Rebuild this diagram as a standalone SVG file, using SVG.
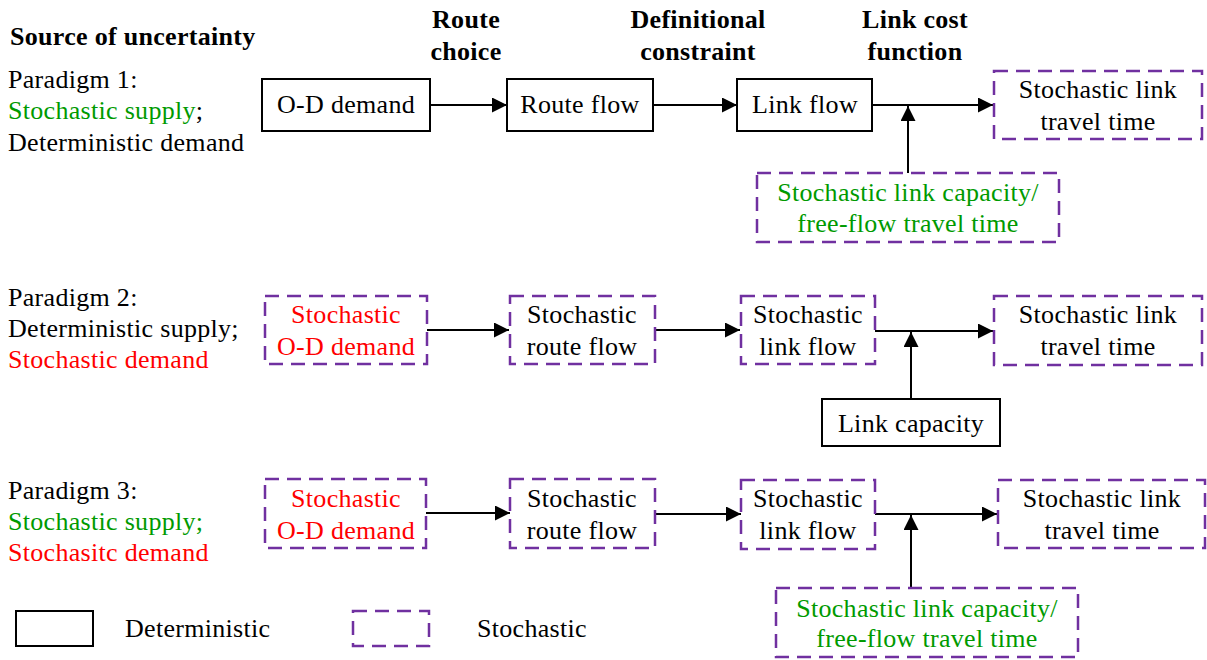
<svg xmlns="http://www.w3.org/2000/svg" width="1207" height="660" viewBox="0 0 1207 660">
<defs>
<marker id="arr" viewBox="0 0 10 10" markerWidth="15" markerHeight="15" markerUnits="userSpaceOnUse" refX="10" refY="5" orient="auto">
<path d="M0,0 L10,5 L0,10 z" fill="#000"/>
</marker>
</defs>
<style>
text{font-family:'Liberation Serif','Times New Roman','DejaVu Serif',serif;font-size:26px;fill:#000;letter-spacing:0.3px}
.h{font-weight:bold;text-anchor:middle}
.c{text-anchor:middle}
.g{fill:#009a00}
.r{fill:#ff0000}
.det{fill:#fff;stroke:#000;stroke-width:2}
.sto{fill:#fff;stroke:#7030a0;stroke-width:2.5;stroke-dasharray:14 8}
.con{fill:none;stroke:#000;stroke-width:2;marker-end:url(#arr)}
</style>
<rect width="1207" height="660" fill="#fff"/>

<g id="headers">
<text x="10" y="45" font-weight="bold">Source of uncertainty</text>
<text class="h" x="466" y="28">Route</text>
<text class="h" x="466" y="60">choice</text>
<text class="h" x="698" y="28">Definitional</text>
<text class="h" x="698" y="60">constraint</text>
<text class="h" x="915" y="28">Link cost</text>
<text class="h" x="915" y="60">function</text>
</g>

<g id="paradigm1-label">
<text x="8" y="88">Paradigm 1:</text>
<text x="8" y="119"><tspan class="g">Stochastic supply</tspan>;</text>
<text x="8" y="151">Deterministic demand</text>
</g>
<g id="paradigm2-label">
<text x="8" y="306">Paradigm 2:</text>
<text x="8" y="337">Deterministic supply;</text>
<text x="8" y="368" class="r">Stochastic demand</text>
</g>
<g id="paradigm3-label">
<text x="8" y="499">Paradigm 3:</text>
<text x="8" y="530" class="g">Stochastic supply;</text>
<text x="8" y="561" class="r">Stochasitc demand</text>
</g>

<g id="connectors">
<path class="con" d="M430,105 H507"/>
<path class="con" d="M653,105 H737"/>
<path class="con" d="M872,105 H993"/>
<path class="con" d="M908,173 V106"/>
<path class="con" d="M427,330 H509"/>
<path class="con" d="M655,330 H740"/>
<path class="con" d="M875,331 H993"/>
<path class="con" d="M911,398 V332"/>
<path class="con" d="M426,513 H510"/>
<path class="con" d="M655,514 H741"/>
<path class="con" d="M875,514 H997"/>
<path class="con" d="M911,588 V515"/>
</g>

<g id="p1-od"><rect class="det" x="262" y="79" width="168" height="52"/><text class="c" x="346" y="113">O-D demand</text></g>
<g id="p1-route"><rect class="det" x="507" y="79" width="146" height="52"/><text class="c" x="580" y="113">Route flow</text></g>
<g id="p1-link"><rect class="det" x="737" y="79" width="135" height="52"/><text class="c" x="805" y="113">Link flow</text></g>
<g id="p1-time"><rect class="sto" x="994" y="71" width="208" height="68"/><text class="c" x="1098" y="98">Stochastic link</text><text class="c" x="1098" y="130">travel time</text></g>
<g id="p1-cap"><rect class="sto" x="757" y="173" width="302" height="69"/><text class="c g" x="908" y="201">Stochastic link capacity/</text><text class="c g" x="908" y="232">free-flow travel time</text></g>

<g id="p2-od"><rect class="sto" x="265" y="296" width="162" height="68"/><text class="c r" x="346" y="323">Stochastic</text><text class="c r" x="346" y="355">O-D demand</text></g>
<g id="p2-route"><rect class="sto" x="510" y="296" width="145" height="68"/><text class="c" x="582" y="323">Stochastic</text><text class="c" x="582" y="355">route flow</text></g>
<g id="p2-link"><rect class="sto" x="741" y="296" width="134" height="68"/><text class="c" x="808" y="323">Stochastic</text><text class="c" x="808" y="355">link flow</text></g>
<g id="p2-time"><rect class="sto" x="994" y="296" width="208" height="69"/><text class="c" x="1098" y="323">Stochastic link</text><text class="c" x="1098" y="355">travel time</text></g>
<g id="p2-cap"><rect class="det" x="822" y="399" width="178" height="47"/><text class="c" x="911" y="432">Link capacity</text></g>

<g id="p3-od"><rect class="sto" x="265" y="479" width="161" height="69"/><text class="c r" x="346" y="507">Stochastic</text><text class="c r" x="346" y="539">O-D demand</text></g>
<g id="p3-route"><rect class="sto" x="510" y="479" width="145" height="69"/><text class="c" x="582" y="507">Stochastic</text><text class="c" x="582" y="539">route flow</text></g>
<g id="p3-link"><rect class="sto" x="741" y="480" width="134" height="69"/><text class="c" x="808" y="507">Stochastic</text><text class="c" x="808" y="539">link flow</text></g>
<g id="p3-time"><rect class="sto" x="998" y="480" width="207" height="68"/><text class="c" x="1102" y="507">Stochastic link</text><text class="c" x="1102" y="539">travel time</text></g>
<g id="p3-cap"><rect class="sto" x="776" y="588" width="302" height="69"/><text class="c g" x="927" y="617">Stochastic link capacity/</text><text class="c g" x="927" y="647">free-flow travel time</text></g>

<g id="legend">
<rect class="det" x="16" y="611" width="77" height="35"/>
<text x="125" y="637">Deterministic</text>
<rect class="sto" x="353" y="611" width="76" height="35"/>
<text x="477" y="637">Stochastic</text>
</g>
</svg>
